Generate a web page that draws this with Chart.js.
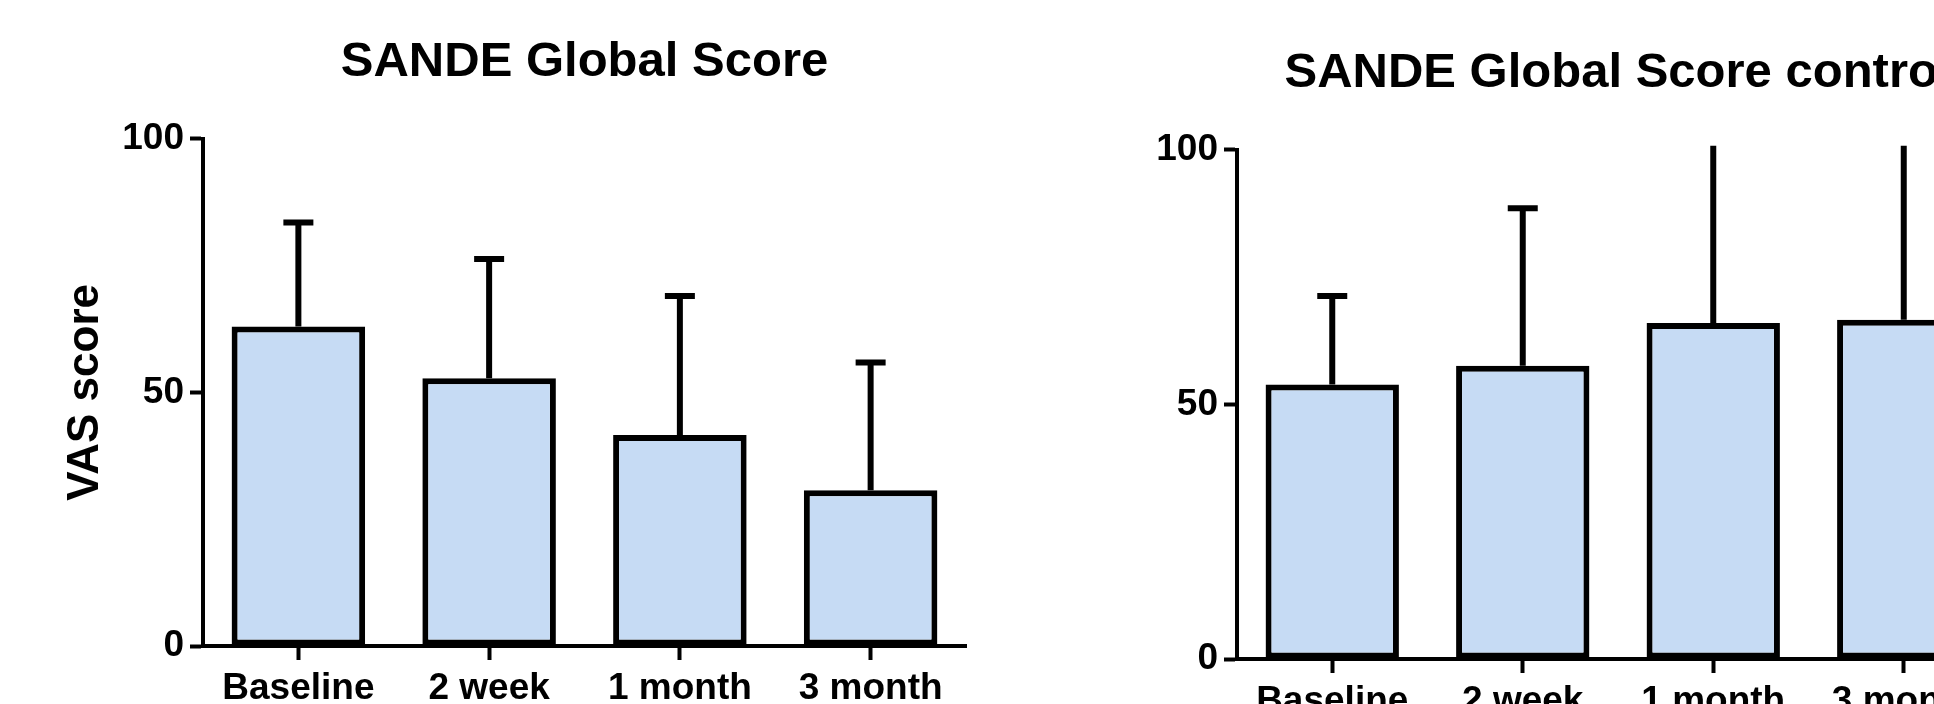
<!DOCTYPE html>
<html>
<head>
<meta charset="utf-8">
<script src="https://cdn.jsdelivr.net/npm/chart.js@4"></script>
<style>
  html, body { margin: 0; padding: 0; background: #fff; overflow: hidden; width: 1934px; height: 704px; }
  canvas { position: absolute; top: 0; }
  #sande { left: 0; }
  #control { left: 1000px; }
</style>
</head>
<body>
<canvas id="sande" width="1169" height="704"></canvas>
<canvas id="control" width="1236" height="717"></canvas>
<script>
// time points
const categories = ["Baseline", "2 week", "1 month", "3 month"];
// treated group: mean VAS and SD
const sandeMean = [63, 52.8, 41.6, 30.7];
const sandeSD = [20.5, 23.5, 27.4, 25.2];
// control group: mean VAS and SD (last two run off the top)
const controlMean = [53.9, 57.6, 66, 66.6];
const controlSD = [17.4, 30.9, 38, 38];
const yTicks = [0, 50, 100];

const fontFam = "'Liberation Sans', Arial, sans-serif";

// draws the upper error bar for each bar, clipped to the plot area
const errorBars = {
    id: 'errorBars',
    afterDatasetsDraw(chart) {
        const ctx = chart.ctx;
        const yScale = chart.scales.y;
        const sd = chart.options.plugins.errorBars.sd;
        const area = chart.chartArea;
        const meta = chart.getDatasetMeta(0);
        ctx.save();
        ctx.beginPath();
        ctx.rect(area.left, area.top - 4, area.right - area.left, area.bottom - area.top + 4);
        ctx.clip();
        ctx.strokeStyle = '#000';
        ctx.lineWidth = 6;
        ctx.lineCap = 'butt';
        meta.data.forEach((bar, i) => {
            const v = chart.data.datasets[0].data[i];
            const yTop = yScale.getPixelForValue(v + sd[i]);
            ctx.beginPath();
            ctx.moveTo(bar.x, bar.y);
            ctx.lineTo(bar.x, yTop);
            ctx.stroke();
            ctx.beginPath();
            ctx.moveTo(bar.x - 15, yTop);
            ctx.lineTo(bar.x + 15, yTop);
            ctx.stroke();
        });
        ctx.restore();
    }
};

function makeChart(id, title, means, sd, opts) {
    return new Chart(document.getElementById(id), {
        type: 'bar',
        data: {
            labels: categories,
            datasets: [{
                data: means,
                backgroundColor: '#c6dbf4',
                borderColor: '#000',
                borderWidth: 6,
                borderSkipped: false,
                barPercentage: 0.70,
                categoryPercentage: 1.0
            }]
        },
        options: {
            responsive: false,
            animation: false,
            layout: { padding: 0 },
            plugins: {
                legend: { display: false },
                tooltip: { enabled: false },
                errorBars: { sd: sd },
                title: {
                    display: true,
                    text: title,
                    color: '#000',
                    font: { family: fontFam, size: 49, weight: 'bold', lineHeight: 1.2 },
                    padding: { top: opts.titleTop, bottom: opts.titleBottom }
                }
            },
            scales: {
                x: {
                    grid: { display: true, drawOnChartArea: false, offset: false, tickLength: 14, tickWidth: 4, tickColor: '#000' },
                    border: { display: true, color: '#000', width: 4 },
                    ticks: { color: '#000', padding: 7, font: { family: fontFam, size: 37, weight: 'bold' } },
                    afterFit: s => { s.height = opts.xHeight; }
                },
                y: {
                    min: 0,
                    max: 100,
                    afterBuildTicks: s => { s.ticks = yTicks.map(v => ({ value: v })); },
                    grid: { display: true, drawOnChartArea: false, tickLength: 13, tickWidth: 4, tickColor: '#000' },
                    border: { display: true, color: '#000', width: 4 },
                    ticks: { color: '#000', padding: 6, font: { family: fontFam, size: 37, weight: 'bold' } },
                    title: {
                        display: opts.yTitle !== '',
                        text: opts.yTitle,
                        color: '#000',
                        font: { family: fontFam, size: 44, weight: 'bold', lineHeight: 1.2 },
                        padding: { top: 59, bottom: 0 }
                    },
                    afterFit: s => { s.width = opts.yWidth; }
                },
                // empty spacer on the right so the title centres over the plot
                spacer: {
                    type: 'linear',
                    position: 'right',
                    display: true,
                    grid: { display: false },
                    border: { display: false },
                    ticks: { display: false },
                    afterFit: s => { s.width = opts.yWidth; }
                }
            }
        },
        plugins: [errorBars]
    });
}

makeChart('sande', 'SANDE Global Score', sandeMean, sandeSD,
    { titleTop: 33, titleBottom: 47, xHeight: 58, yWidth: 203, yTitle: 'VAS score' });
makeChart('control', 'SANDE Global Score control', controlMean, controlSD,
    { titleTop: 44, titleBottom: 47, xHeight: 58, yWidth: 237, yTitle: '' });
</script>
</body>
</html>
